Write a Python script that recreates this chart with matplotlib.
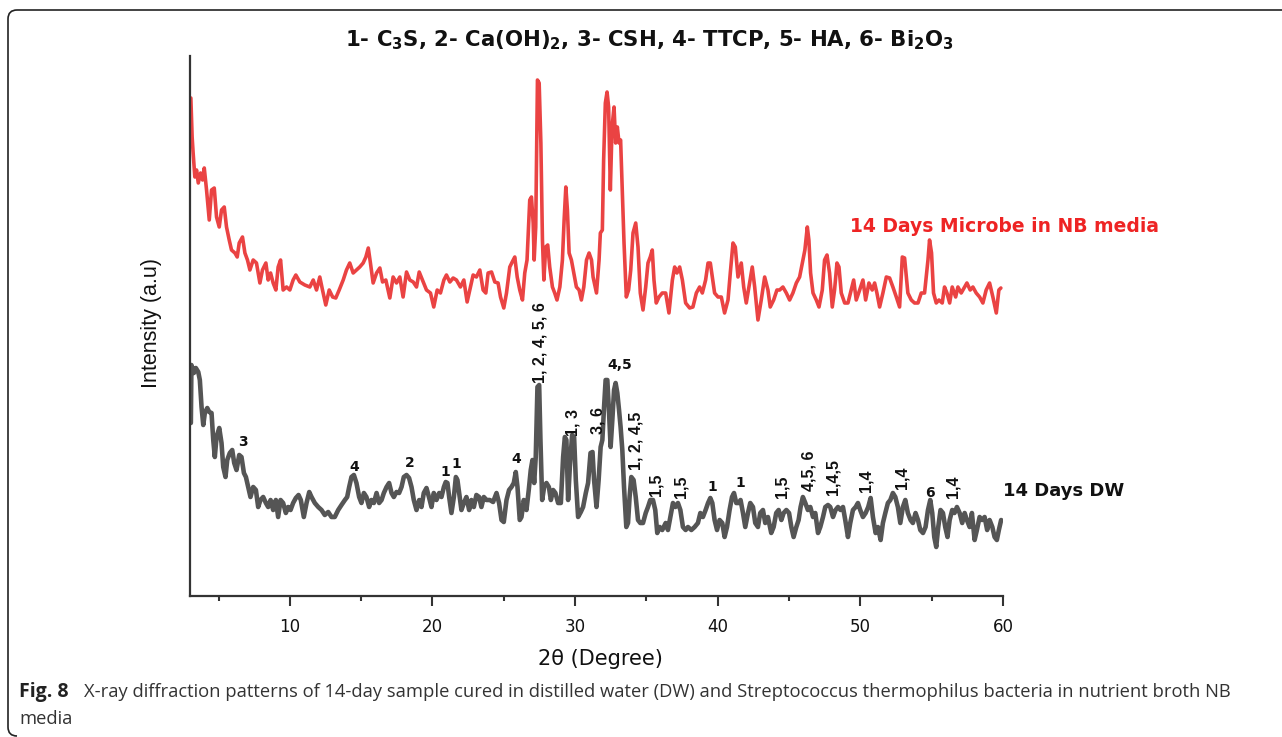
import matplotlib
matplotlib.use("Agg")
import matplotlib.pyplot as plt
from matplotlib.patches import PathPatch
from matplotlib.path import Path
from matplotlib.ticker import MultipleLocator

# ---------------- data (2theta in degrees, intensity in a.u.) ----------------
nb_theta = [3.06, 3.15, 3.22, 3.34, 3.46, 3.58, 3.74, 3.88, 4.00, 4.16, 4.35, 4.51, 4.70, 4.86,
            5.05, 5.21, 5.40, 5.56, 5.75, 5.91, 6.15, 6.31, 6.45, 6.68, 6.85, 7.03, 7.20, 7.43,
            7.66, 7.90, 8.08, 8.32, 8.48, 8.65, 8.83, 9.02, 9.18, 9.35, 9.53, 9.77, 10.00, 10.23,
            10.42, 10.70, 11.05, 11.40, 11.64, 11.87, 12.10, 12.29, 12.52, 12.76, 13.00, 13.22,
            13.46, 13.74, 13.97, 14.20, 14.44, 14.67, 14.90, 15.14, 15.33, 15.50, 15.65, 15.84,
            16.08, 16.31, 16.50, 16.73, 17.01, 17.24, 17.48, 17.71, 17.94, 18.18, 18.41, 18.65,
            18.88, 19.07, 19.30, 19.58, 19.86, 20.09, 20.33, 20.56, 20.80, 20.98, 21.22, 21.45,
            21.68, 21.96, 22.20, 22.43, 22.66, 22.85, 23.08, 23.32, 23.55, 23.74, 23.90, 24.14,
            24.37, 24.60, 24.77, 25.00, 25.19, 25.42, 25.59, 25.77, 25.94, 26.12, 26.31, 26.47,
            26.63, 26.82, 26.94, 27.06, 27.13, 27.24, 27.36, 27.48, 27.60, 27.71, 27.81, 27.94,
            28.08, 28.22, 28.41, 28.57, 28.73, 28.93, 29.11, 29.23, 29.35, 29.46, 29.58, 29.74,
            29.91, 30.09, 30.28, 30.44, 30.61, 30.80, 30.98, 31.15, 31.26, 31.50, 31.68, 31.77,
            31.91, 32.00, 32.12, 32.24, 32.35, 32.47, 32.59, 32.73, 32.84, 32.96, 33.08, 33.19,
            33.31, 33.43, 33.59, 33.75, 33.90, 34.06, 34.25, 34.41, 34.57, 34.76, 34.95, 35.11,
            35.27, 35.41, 35.53, 35.69, 35.88, 36.11, 36.35, 36.58, 36.82, 36.98, 37.14, 37.33,
            37.52, 37.75, 38.03, 38.26, 38.50, 38.73, 38.92, 39.15, 39.32, 39.48, 39.62, 39.78,
            40.02, 40.25, 40.48, 40.72, 40.88, 41.07, 41.23, 41.42, 41.65, 41.82, 42.00, 42.19,
            42.42, 42.59, 42.82, 43.05, 43.29, 43.52, 43.68, 43.92, 44.15, 44.34, 44.57, 44.81,
            45.04, 45.27, 45.51, 45.74, 45.93, 46.11, 46.28, 46.39, 46.51, 46.68, 46.91, 47.10,
            47.33, 47.49, 47.66, 47.84, 48.03, 48.19, 48.36, 48.50, 48.66, 48.90, 49.13, 49.36,
            49.53, 49.71, 49.95, 50.18, 50.37, 50.60, 50.83, 51.00, 51.16, 51.35, 51.58, 51.82,
            52.05, 52.28, 52.52, 52.75, 52.94, 53.10, 53.33, 53.57, 53.80, 54.04, 54.27, 54.50,
            54.74, 54.85, 54.99, 55.13, 55.32, 55.51, 55.74, 55.90, 56.07, 56.26, 56.44, 56.68,
            56.84, 57.07, 57.31, 57.47, 57.70, 57.89, 58.12, 58.36, 58.59, 58.82, 59.06, 59.29,
            59.53, 59.71, 59.85]
nb_intensity = [498, 459, 443, 419, 426, 413, 423, 416, 428, 406, 376, 406, 408, 379,
                369, 386, 389, 369, 356, 346, 343, 339, 353, 359, 343, 336, 326, 336,
                333, 313, 326, 333, 316, 323, 313, 306, 329, 336, 306, 309, 306, 316,
                321, 314, 311, 309, 316, 306, 319, 306, 291, 306, 299, 298,
                306, 316, 326, 333, 323, 326, 329, 333, 339, 348, 333, 313,
                323, 328, 314, 316, 298, 319, 313, 319, 299, 324, 316, 314,
                309, 324, 316, 306, 303, 289, 306, 303, 316, 321, 314, 318,
                316, 309, 316, 294, 309, 321, 319, 326, 306, 303, 323, 324,
                314, 313, 299, 288, 303, 329, 334, 339, 319, 306, 296, 323,
                336, 396, 399, 373, 336, 369, 516, 513, 453, 356, 316, 349,
                351, 329, 309, 303, 296, 309, 336, 376, 409, 386, 343, 336,
                323, 309, 306, 296, 309, 336, 343, 336, 319, 303, 336, 363,
                366, 436, 493, 504, 489, 406, 469, 489, 453, 469, 453, 456,
                403, 353, 299, 306, 326, 363, 373, 349, 303, 286, 309, 333,
                339, 346, 316, 293, 299, 303, 303, 283, 316, 329, 323, 329,
                316, 293, 288, 289, 303, 309, 303, 316, 333, 333, 319, 303,
                299, 299, 283, 296, 323, 353, 349, 319, 333, 309, 293, 309,
                329, 309, 276, 296, 319, 306, 289, 296, 306, 306, 309, 303,
                296, 303, 313, 319, 333, 346, 369, 356, 323, 303, 296, 289,
                306, 336, 341, 323, 289, 306, 333, 329, 303, 293, 293, 306,
                316, 296, 306, 316, 296, 313, 306, 313, 303, 289, 303, 319,
                318, 309, 299, 289, 339, 338, 303, 296, 293, 293, 303, 303,
                336, 356, 343, 303, 293, 296, 293, 309, 303, 293, 309, 299,
                309, 303, 309, 313, 306, 309, 303, 299, 293, 306, 313, 299,
                283, 306, 308]

dw_theta = [3.06, 3.10, 3.27, 3.41, 3.58, 3.69, 3.81, 3.93, 4.04, 4.21, 4.35, 4.51, 4.63, 4.74,
            4.86, 5.05, 5.21, 5.33, 5.49, 5.61, 5.79, 5.96, 6.10, 6.26, 6.45, 6.61, 6.78, 6.92,
            7.08, 7.24, 7.43, 7.62, 7.78, 7.94, 8.13, 8.32, 8.48, 8.65, 8.83, 9.02, 9.18, 9.35,
            9.53, 9.72, 9.88, 10.05, 10.23, 10.42, 10.61, 10.77, 10.98, 11.17, 11.36, 11.52,
            11.75, 11.99, 12.22, 12.45, 12.69, 12.92, 13.15, 13.39, 13.62, 13.86, 14.02, 14.16,
            14.32, 14.49, 14.67, 14.86, 15.02, 15.19, 15.37, 15.56, 15.72, 15.89, 16.08, 16.26,
            16.43, 16.59, 16.78, 16.96, 17.13, 17.29, 17.48, 17.66, 17.83, 17.99, 18.18, 18.36,
            18.53, 18.69, 18.88, 19.07, 19.23, 19.39, 19.58, 19.77, 19.93, 20.09, 20.28, 20.47,
            20.63, 20.80, 20.93, 21.05, 21.17, 21.33, 21.50, 21.64, 21.75, 21.87, 22.03, 22.20,
            22.38, 22.57, 22.73, 22.90, 23.08, 23.27, 23.43, 23.60, 23.79, 24.02, 24.25, 24.49,
            24.67, 24.84, 25.00, 25.19, 25.37, 25.54, 25.70, 25.84, 25.96, 26.12, 26.24, 26.40,
            26.59, 26.75, 26.89, 27.01, 27.13, 27.24, 27.36, 27.48, 27.57, 27.69, 27.83, 27.99,
            28.16, 28.30, 28.46, 28.62, 28.81, 29.00, 29.16, 29.28, 29.39, 29.51, 29.63, 29.79,
            29.93, 30.05, 30.21, 30.40, 30.56, 30.75, 30.91, 31.08, 31.22, 31.33, 31.50, 31.65,
            31.79, 31.91, 32.03, 32.14, 32.26, 32.38, 32.49, 32.61, 32.73, 32.84, 32.96, 33.08,
            33.19, 33.31, 33.43, 33.59, 33.71, 33.82, 33.94, 34.10, 34.25, 34.41, 34.57, 34.76,
            34.95, 35.11, 35.27, 35.46, 35.62, 35.76, 35.93, 36.11, 36.35, 36.51, 36.68, 36.86,
            37.03, 37.21, 37.38, 37.56, 37.75, 37.91, 38.15, 38.38, 38.61, 38.78, 38.96, 39.15,
            39.32, 39.48, 39.62, 39.78, 39.95, 40.13, 40.32, 40.48, 40.65, 40.83, 41.00, 41.14,
            41.30, 41.46, 41.60, 41.77, 41.93, 42.12, 42.28, 42.47, 42.63, 42.82, 42.98, 43.17,
            43.33, 43.52, 43.75, 43.92, 44.10, 44.27, 44.46, 44.62, 44.81, 45.00, 45.16, 45.32,
            45.51, 45.67, 45.81, 45.97, 46.14, 46.32, 46.49, 46.68, 46.84, 47.03, 47.19, 47.38,
            47.54, 47.73, 47.89, 48.08, 48.26, 48.43, 48.61, 48.78, 48.94, 49.13, 49.29, 49.48,
            49.67, 49.83, 49.99, 50.18, 50.37, 50.55, 50.72, 50.88, 51.07, 51.23, 51.42, 51.58,
            51.75, 51.93, 52.10, 52.28, 52.45, 52.63, 52.80, 52.98, 53.15, 53.33, 53.52, 53.68,
            53.87, 54.04, 54.20, 54.39, 54.57, 54.74, 54.90, 55.04, 55.18, 55.32, 55.46, 55.62,
            55.79, 55.95, 56.11, 56.26, 56.44, 56.60, 56.77, 56.96, 57.14, 57.31, 57.47, 57.66,
            57.82, 58.01, 58.17, 58.36, 58.54, 58.71, 58.89, 59.06, 59.25, 59.41, 59.57, 59.71,
            59.87]
dw_intensity = [173, 231, 223, 228, 224, 216, 189, 171, 183, 188, 184, 183, 156, 139,
                159, 168, 153, 129, 119, 136, 143, 146, 133, 126, 141, 139, 123, 119,
                109, 99, 109, 106, 89, 96, 99, 93, 89, 96, 86, 96, 79, 96,
                93, 83, 89, 86, 93, 98, 101, 96, 79, 93, 104, 99,
                93, 89, 86, 81, 84, 79, 79, 86, 91, 96, 99, 109,
                119, 121, 113, 99, 93, 103, 99, 89, 96, 93, 103, 93,
                96, 103, 109, 113, 103, 99, 104, 103, 109, 119, 121, 118,
                109, 96, 86, 96, 89, 103, 108, 98, 89, 103, 96, 103,
                99, 109, 114, 113, 99, 83, 99, 119, 116, 103, 86, 93,
                99, 86, 96, 89, 101, 99, 89, 99, 96, 96, 94, 103,
                93, 76, 74, 96, 106, 109, 113, 124, 109, 76, 79, 96,
                86, 106, 126, 136, 113, 139, 209, 211, 156, 96, 109, 113,
                109, 96, 106, 103, 93, 93, 139, 159, 156, 96, 129, 161,
                159, 116, 79, 84, 89, 103, 113, 143, 144, 116, 89, 116,
                149, 156, 189, 216, 216, 183, 149, 176, 206, 213, 203, 186,
                169, 146, 109, 69, 73, 99, 119, 116, 99, 76, 73, 73,
                83, 89, 96, 96, 86, 63, 69, 66, 73, 66, 79, 93,
                89, 93, 86, 69, 66, 69, 66, 69, 73, 83, 79, 86,
                93, 98, 93, 76, 66, 76, 73, 59, 69, 86, 99, 103,
                93, 93, 96, 83, 69, 83, 93, 89, 73, 69, 83, 86,
                73, 79, 63, 69, 83, 86, 76, 83, 86, 83, 69, 59,
                69, 76, 89, 99, 93, 86, 89, 79, 83, 63, 69, 79,
                89, 91, 89, 79, 86, 89, 86, 89, 76, 59, 73, 86,
                89, 93, 86, 79, 83, 89, 98, 79, 63, 69, 56, 73,
                83, 93, 96, 103, 99, 89, 73, 89, 96, 83, 76, 73,
                83, 76, 66, 63, 69, 86, 96, 83, 59, 49, 69, 86,
                83, 69, 59, 76, 86, 83, 89, 83, 73, 83, 76, 69,
                83, 56, 66, 79, 76, 79, 66, 76, 69, 59, 56, 66,
                76]

# peak labels on the DW pattern
flat_labels = ["3", "4", "2", "1", "1", "4", "4,5", "1", "1", "6"]
flat_theta = [6.68, 14.49, 18.41, 20.9, 21.7, 25.9, 33.1, 39.6, 41.6, 54.85]
flat_int = [154, 129, 133, 124, 132, 137, 231, 109, 113, 103]

vert_labels = ["1, 2, 4, 5, 6", "1, 3", "3, 6", "1, 2, 4,5", "1,5", "1,5", "1,5",
               "4,5, 6", "1,4,5", "1,4", "1,4", "1,4"]
vert_theta = [27.52, 29.83, 31.6, 34.3, 35.7, 37.4, 44.5, 46.4, 48.05, 50.4, 52.9, 56.5]
vert_int = [253, 174, 176, 155, 111, 109, 109, 125, 119, 115, 118, 109]

x_ticks = [10, 20, 30, 40, 50, 60]

title = r"1- C$_3$S, 2- Ca(OH)$_2$, 3- CSH, 4- TTCP, 5- HA, 6- Bi$_2$O$_3$"
caption_bold = "Fig. 8"
caption_rest = ("X-ray diffraction patterns of 14-day sample cured in distilled water (DW) and "
                "Streptococcus thermophilus bacteria in nutrient broth NB")
caption_line2 = "media"

# ---------------- figure ----------------
plt.rcParams["mathtext.default"] = "regular"
W, H = 1282, 737
fig = plt.figure(figsize=(W / 100, H / 100), dpi=100)
fig.patch.set_facecolor("white")

ax = fig.add_axes([190 / W, 1 - 596 / H, (1003 - 190) / W, (596 - 56) / H])
ax.plot(nb_theta, nb_intensity, color="#ea4343", lw=2.6, solid_joinstyle="round",
        solid_capstyle="round")
ax.plot(dw_theta, dw_intensity, color="#555555", lw=3.3, solid_joinstyle="round",
        solid_capstyle="round")
ax.set_xlim(3.0, 60)
ax.set_ylim(0, 540)

for s in ["top", "right"]:
    ax.spines[s].set_visible(False)
for s in ["left", "bottom"]:
    ax.spines[s].set_linewidth(1.6)
    ax.spines[s].set_color("#333333")
ax.set_yticks([])
ax.set_xticks(x_ticks)
ax.xaxis.set_minor_locator(MultipleLocator(5))
ax.tick_params(axis="x", which="major", direction="out", length=7, width=1.5,
               color="#333333", pad=9, labelsize=12, labelcolor="#111111")
ax.tick_params(axis="x", which="minor", direction="out", length=3.5, width=1.5, color="#333333")
for lab in ax.get_xticklabels():
    lab.set_family("DejaVu Sans")

for t, x, y in zip(flat_labels, flat_theta, flat_int):
    ax.text(x, y, t, ha="center", va="center", fontsize=10, fontweight="bold",
            family="DejaVu Sans", color="#111111")
for t, x, y in zip(vert_labels, vert_theta, vert_int):
    ax.text(x, y, t, ha="center", va="center", rotation=90, fontsize=11.5, fontweight="bold",
            family="Liberation Sans", color="#111111")

ax.text(49.24, 369, "14 Days Microbe in NB media", ha="left", va="center", fontsize=13.5,
        fontweight="bold", family="DejaVu Sans", color="#ee2424", clip_on=False)
ax.text(60.0, 105, "14 Days DW", ha="left", va="center", fontsize=13,
        fontweight="bold", family="DejaVu Sans", color="#111111", clip_on=False)

fig.text(649 / W, 1 - 40 / H, title, ha="center", va="center", fontsize=15.3,
         fontweight="bold", family="DejaVu Sans", color="#111111")
fig.text(152 / W, 1 - 323 / H, "Intensity (a.u)", ha="center", va="center", rotation=90,
         fontsize=15.5, family="Liberation Sans", color="#111111")
fig.text(600 / W, 1 - 659 / H, "2\u03b8 (Degree)", ha="center", va="center", fontsize=15,
         family="DejaVu Sans", color="#111111")

# caption
fig.canvas.draw()
r = fig.canvas.get_renderer()
fig.text(19 / W, 1 - 697 / H, caption_bold, ha="left", va="baseline", fontsize=14,
         fontweight="bold", family="Open Sans", color="#222222")
target = 1230 - 84
probe = fig.text(0, 0, caption_rest, fontsize=10, family="Open Sans")
pw = probe.get_window_extent(renderer=r).width
probe.remove()
cs = 10 * target / pw
fig.text(84 / W, 1 - 697 / H, caption_rest, ha="left", va="baseline", fontsize=cs,
         family="Open Sans", color="#333333")
fig.text(19 / W, 1 - 724 / H, caption_line2, ha="left", va="baseline", fontsize=cs,
         family="Open Sans", color="#333333")

# frame: top and left edges with rounded left corners (figure fractions)
def fx(px):
    return px / W

def fy(py):
    return 1 - py / H

rad = 9
verts = [(fx(W + 5), fy(10)), (fx(8 + rad), fy(10)), (fx(8), fy(10)), (fx(8), fy(10 + rad)),
         (fx(8), fy(H - 1 - rad)), (fx(8), fy(H - 1)), (fx(8 + rad), fy(H - 1))]
codes = [Path.MOVETO, Path.LINETO, Path.CURVE3, Path.CURVE3, Path.LINETO, Path.CURVE3,
         Path.CURVE3]
frame = PathPatch(Path(verts, codes), transform=fig.transFigure, fill=False, lw=1.2,
                  ec="#222222", clip_on=False)
fig.add_artist(frame)

fig.savefig("out.png", dpi=100, facecolor="white")
